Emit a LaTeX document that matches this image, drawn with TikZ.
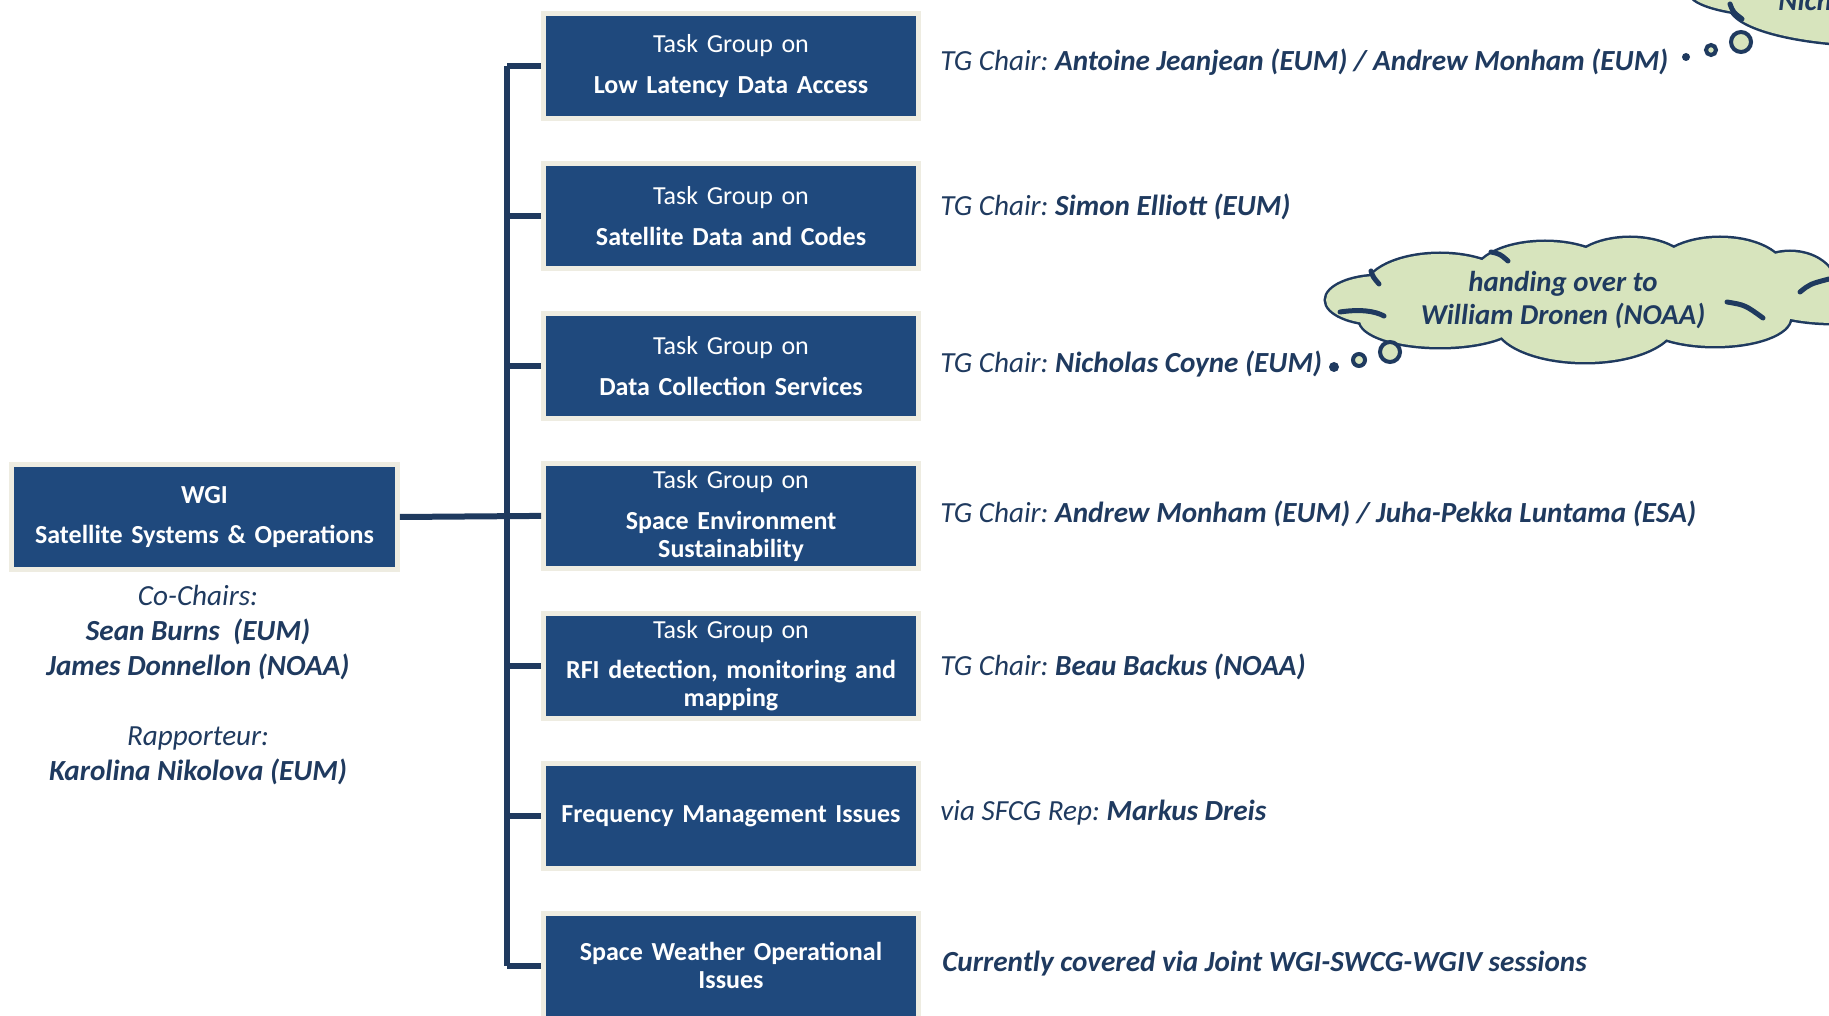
\documentclass[tikz,border=0pt]{standalone}
\usepackage{fontspec}
\setmainfont{Carlito}
\usetikzlibrary{positioning}
\definecolor{boxblue}{HTML}{1F497D}
\definecolor{boxrim}{HTML}{EEECE1}
\definecolor{inkblue}{HTML}{1F3A5F}
\definecolor{cloudgreen}{HTML}{D7E4BD}
\newcommand{\tgon}{Task Group on\\[7pt]}
\frenchspacing

\begin{document}
\begin{tikzpicture}[x=0.02cm, y=-0.02cm, node distance=3cm,
    tgbox/.style={rectangle, fill=boxblue, draw=boxrim, line width=0.1cm, text=white, minimum width=7.5cm, minimum height=2.1cm, text width=7.3cm, align=center, inner sep=0pt, font=\fontsize{14.8}{16}\selectfont},
    link/.style={draw=inkblue, line width=0.12cm},
    chair/.style={anchor=base west, inner sep=0pt, text=inkblue, font=\fontsize{16.6}{19}\selectfont\itshape},
    puffline/.style={draw=inkblue, line width=0.1cm, line cap=round},
    bubble/.style={fill=cloudgreen, draw=inkblue, line width=0.08cm}]
    \useasboundingbox (0,0) rectangle (1829,1016);
    \clip (0,0) rectangle (1829,1016);

    % working group and its task groups
    \node[tgbox, minimum width=7.72cm, minimum height=2.12cm, text width=7.6cm] (wgi) at (204.5,517) {\bfseries WGI\\[6.5pt]Satellite Systems \& Operations};
    \node[tgbox] (tg1) at (731,66) {\tgon\textbf{Low Latency Data Access}};
    \node[tgbox] (tg2) [below of=tg1] {\tgon\textbf{Satellite Data and Codes}};
    \node[tgbox] (tg3) [below of=tg2] {\tgon\textbf{Data Collection Services}};
    \node[tgbox] (tg4) [below of=tg3] {\tgon{\bfseries Space Environment\\Sustainability}};
    \node[tgbox] (tg5) [below of=tg4] {\tgon{\bfseries RFI detection, monitoring and\\mapping}};
    \node[tgbox] (tg6) [below of=tg5] {\bfseries Frequency Management Issues};
    \node[tgbox] (tg7) [below of=tg6] {\bfseries Space Weather Operational\\Issues};

    % tree lines
    \coordinate (bus) at (507,517);
    \draw[link] (wgi.east) -- (tg4.west);
    \draw[link] (tg1.west -| bus) -- (tg7.west -| bus);
    \foreach \i in {1,...,7}
        \draw[link] (tg\i.west -| bus) -- (tg\i.west);

    % co-chairs (base = last line)
    \node[anchor=base, inner sep=0pt, align=center, text=inkblue, font=\fontsize{16.6}{19.9}\selectfont\itshape] (chairs) at (198,780)
        {Co-Chairs:\\\textbf{Sean Burns~ (EUM)}\\\textbf{James Donnellon (NOAA)}\\[19.9pt]Rapporteur:\\\textbf{Karolina Nikolova (EUM)}};

    % task group chairs
    \node[chair] (chair1) at (940,71) {TG Chair: \textbf{Antoine Jeanjean (EUM) / Andrew Monham (EUM)}};
    \node[chair] (chair2) at (940,216) {TG Chair: \textbf{Simon Elliott (EUM)}};
    \node[chair] (chair3) at (940,373) {TG Chair: \textbf{Nicholas Coyne (EUM)}};
    \node[chair] (chair4) at (940,523) {TG Chair: \textbf{Andrew Monham (EUM) / Juha-Pekka Luntama (ESA)}};
    \node[chair] (chair5) at (940,675) {TG Chair: \textbf{Beau Backus (NOAA)}};
    \node[chair] (chair6) at (940,820) {via SFCG Rep: \textbf{Markus Dreis}};
    \node[chair, font=\fontsize{16.6}{19}\selectfont\bfseries\itshape] (chair7) at (942,971) {Currently covered via Joint WGI-SWCG-WGIV sessions};

    % thought cloud at the top
    \foreach \cx/\cy/\rx/\ry in {1790/-8/100/24, 1880/5/150/40}
        \draw[puffline] (\cx,\cy) ellipse [x radius=\rx*0.02cm, y radius=\ry*0.02cm];
    \foreach \cx/\cy/\rx/\ry in {1790/-8/100/24, 1880/5/150/40}
        \fill[cloudgreen] (\cx,\cy) ellipse [x radius=\rx*0.02cm, y radius=\ry*0.02cm];
    \draw[puffline] (1730,4) .. controls (1733,12) .. (1742,19);
    \node[chair, font=\fontsize{16.6}{19}\selectfont\bfseries\itshape] (note1) at (1778,11) {Nicholas};
    \fill[inkblue] (1686,57) circle[radius=0.08cm];
    \draw[bubble] (1711,50) circle[radius=0.1cm];
    \draw[bubble] (1741,42) circle[radius=0.2cm];

    % thought cloud beside Data Collection Services
    \foreach \cx/\cy/\rx/\ry in {1380/300/54/24, 1440/290/75/36, 1545/275/70/33, 1630/270/60/32, 1720/272/65/34, 1790/285/45/33, 1440/320/80/27, 1585/322/90/40, 1715/318/75/28, 1835/305/70/18}
        \draw[puffline] (\cx,\cy) ellipse [x radius=\rx*0.02cm, y radius=\ry*0.02cm];
    \foreach \cx/\cy/\rx/\ry in {1380/300/54/24, 1440/290/75/36, 1545/275/70/33, 1630/270/60/32, 1720/272/65/34, 1790/285/45/33, 1440/320/80/27, 1585/322/90/40, 1715/318/75/28, 1835/305/70/18, 1590/298/210/38}
        \fill[cloudgreen] (\cx,\cy) ellipse [x radius=\rx*0.02cm, y radius=\ry*0.02cm];
    % inner creases of the cloud
    \draw[puffline] (1340,312) .. controls (1360,309) and (1375,311) .. (1384,316);
    \draw[puffline] (1371,271) .. controls (1373,277) .. (1379,284);
    \draw[puffline] (1491,252) .. controls (1500,254) .. (1508,261);
    \draw[puffline] (1727,302) .. controls (1745,305) .. (1763,318);
    \draw[puffline] (1800,292) .. controls (1810,284) .. (1829,279);
    \node[align=center, inner sep=0pt, text=inkblue, font=\fontsize{16.4}{18.8}\selectfont\bfseries\itshape] (note2) at (1563,300) {handing over to\\William Dronen (NOAA)};
    \fill[inkblue] (1334,367) circle[radius=0.1cm];
    \draw[bubble] (1359,360) circle[radius=0.12cm];
    \draw[bubble] (1390,352) circle[radius=0.2cm];
\end{tikzpicture}
\end{document}
